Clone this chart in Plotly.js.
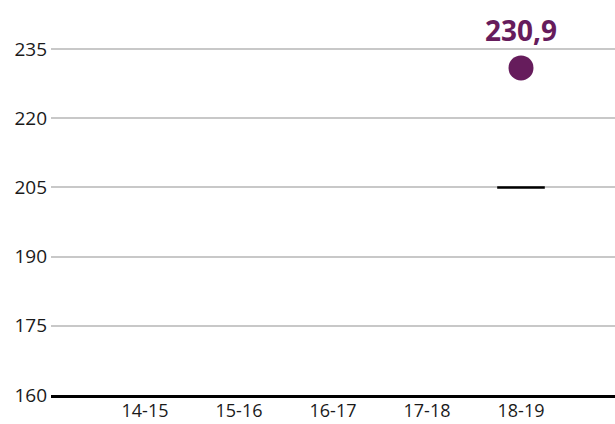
<!DOCTYPE html>
<html><head><meta charset="utf-8">
<script src="https://cdn.plot.ly/plotly-3.0.1.min.js"></script>
<style>html,body{margin:0;padding:0;background:#fff}</style>
</head><body>
<div id="chart" style="width:615px;height:424px"></div>
<script>
const categories = ["", "14-15", "15-16", "16-17", "17-18", "18-19"];
const valueCats = ["18-19"];
const values = [230.9];
const valueLabels = ["230,9"];
const targetCats = ["18-19"];
const targets = [205];
const yTicks = [160, 175, 190, 205, 220, 235];

const purple = "#661c5c";
const font = "Open Sans, Lato, sans-serif";

const traces = [
  {
    type: "scatter", mode: "markers", x: targetCats, y: targets,
    marker: {symbol: "line-ew", size: 34, line: {color: "#000", width: 2.5}},
    hoverinfo: "skip", cliponaxis: false
  },
  {
    type: "scatter", mode: "markers", x: valueCats, y: values,
    marker: {color: purple, size: 25},
    hoverinfo: "skip", cliponaxis: false
  }
];

const layout = {
  width: 615, height: 424,
  margin: {l: 51, r: 0, t: 0, b: 29},
  paper_bgcolor: "#fff", plot_bgcolor: "#fff",
  showlegend: false,
  font: {family: font, size: 19, color: "#1a1a1a"},
  xaxis: {
    type: "category", categoryorder: "array", categoryarray: categories,
    range: [0, 6], tickvals: categories.slice(1), showgrid: false,
    showline: true, linecolor: "#000", linewidth: 3, ticks: "",
    zeroline: false, fixedrange: true, ticklabelstandoff: -3,
    tickfont: {family: font, size: 18, color: "#1a1a1a"}
  },
  yaxis: {
    range: [160, 245.63], tickvals: yTicks, ticktext: yTicks.map(String),
    showgrid: true, gridcolor: "#c8c8c8", gridwidth: 2,
    zeroline: false, showline: false, ticks: "",
    ticklabelstandoff: 3,
    tickfont: {family: font, size: 19, color: "#1a1a1a"}, fixedrange: true
  },
  annotations: valueCats.map((c, i) => ({
    x: c, y: values[i], xref: "x", yref: "y", text: valueLabels[i],
    showarrow: false, yanchor: "middle", yshift: 38,
    font: {family: font, size: 28, color: purple, weight: "bold"}
  }))
};

Plotly.newPlot("chart", traces, layout, {displayModeBar: false, staticPlot: true});
</script>
</body></html>
